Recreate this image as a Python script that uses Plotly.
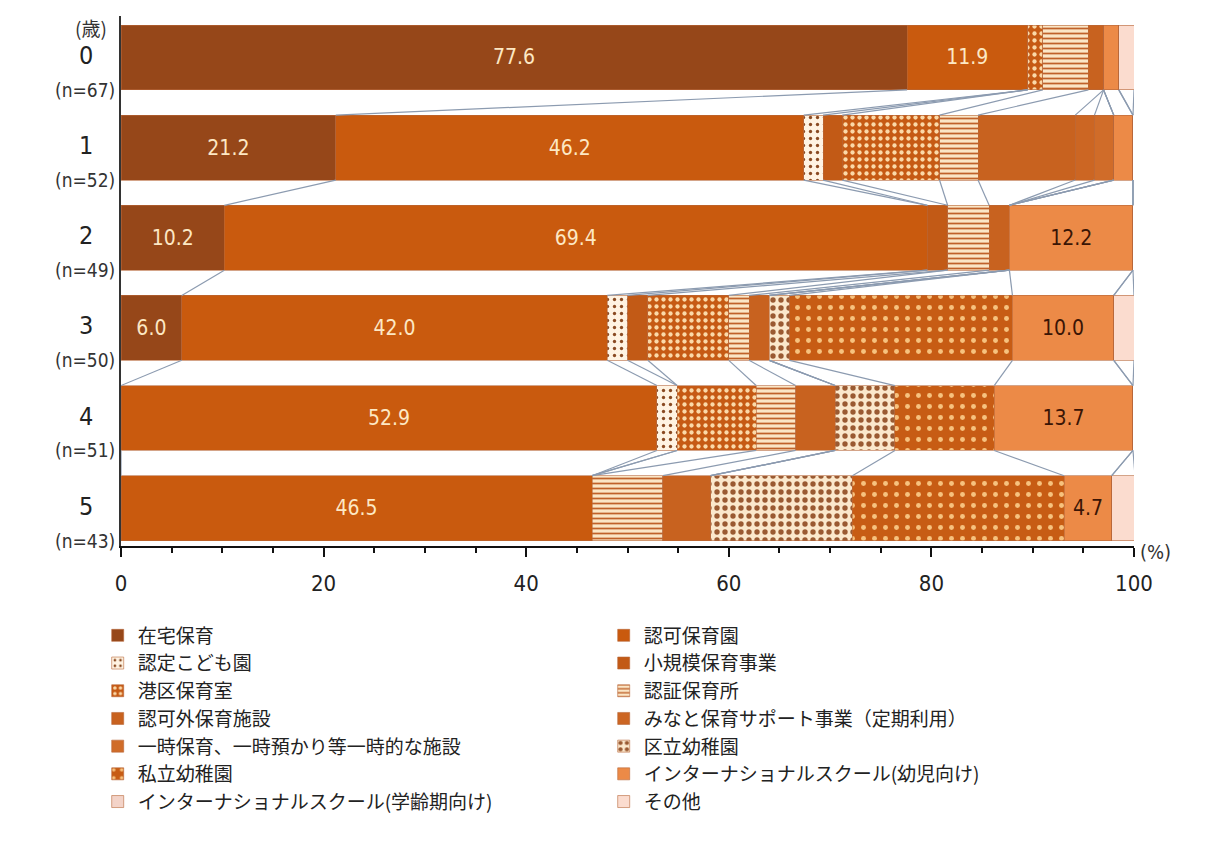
import plotly.graph_objects as go

ages = ["0", "1", "2", "3", "4", "5"]
n_labels = ["(n=67)", "(n=52)", "(n=49)", "(n=50)", "(n=51)", "(n=43)"]

series_names = [
    "在宅保育", "認可保育園",
    "認定こども園", "小規模保育事業",
    "港区保育室", "認証保育所",
    "認可外保育施設", "みなと保育サポート事業（定期利用）",
    "一時保育、一時預かり等一時的な施設", "区立幼稚園",
    "私立幼稚園", "インターナショナルスクール(幼児向け)",
    "インターナショナルスクール(学齢期向け)", "その他",
]

zaitaku = [77.6, 21.2, 10.2, 6.0, 0.0, 0.0]
ninka = [11.9, 46.2, 69.4, 42.0, 52.9, 46.5]
nintei = [0.0, 1.9, 0.0, 2.0, 2.0, 0.0]
shokibo = [0.0, 1.9, 2.0, 2.0, 0.0, 0.0]
minatoku = [1.5, 9.6, 0.0, 8.0, 7.8, 0.0]
ninsho = [4.5, 3.8, 4.1, 2.0, 3.9, 7.0]
ninkagai = [1.5, 9.6, 2.0, 2.0, 3.9, 4.7]
minato_support = [0.0, 1.9, 0.0, 0.0, 0.0, 0.0]
ichiji = [0.0, 1.9, 0.0, 0.0, 0.0, 0.0]
kuritsu = [0.0, 0.0, 0.0, 2.0, 5.9, 14.0]
shiritsu = [0.0, 0.0, 0.0, 22.0, 9.8, 20.9]
inter_yoji = [1.5, 1.9, 12.2, 10.0, 13.7, 4.7]
inter_gakurei = [0.0, 0.0, 0.0, 0.0, 0.0, 0.0]
sonota = [1.5, 0.0, 0.0, 2.0, 0.0, 2.3]

values = [zaitaku, ninka, nintei, shokibo, minatoku, ninsho, ninkagai,
          minato_support, ichiji, kuritsu, shiritsu, inter_yoji,
          inter_gakurei, sonota]

x_ticks = [0, 20, 40, 60, 80, 100]

# styles: (bg colour, pattern shape, pattern fg colour, solidity, size)
styles = [
    ("#964719", "", None, None, None),
    ("#c95a0e", "", None, None, None),
    ("#fff3e2", ".", "#8a4a22", 0.18, 7),
    ("#c25a16", "", None, None, None),
    ("#c65a14", ".", "#fbd9a8", 0.3, 7),
    ("#fbe6c6", "-", "#c0622a", 0.35, 5),
    ("#c8621f", "", None, None, None),
    ("#cc6623", "", None, None, None),
    ("#d06c29", "", None, None, None),
    ("#fbe8cc", ".", "#9a5a32", 0.35, 8),
    ("#c75c14", ".", "#f7c27e", 0.16, 11),
    ("#ec8a47", "", None, None, None),
    ("#f3d3c8", "", None, None, None),
    ("#fbdccf", "", None, None, None),
]

labelled = {0: "#fde8c4", 1: "#fde8c4", 11: "#3a1505"}

num_font = "Liberation Sans Narrow, DejaVu Sans Condensed, Noto Sans CJK JP"
jp_font = "Noto Sans CJK JP"

BW = 0.72
ypos = list(range(len(ages)))

fig = go.Figure()

for k, (name, vals) in enumerate(zip(series_names, values)):
    bg, shape, fg, sol, size = styles[k]
    marker = dict(color=bg, line=dict(color="#b8683a", width=0.6))
    if shape:
        marker["pattern"] = dict(shape=shape, fgcolor=fg, bgcolor=bg,
                                 solidity=sol, size=size, fillmode="replace")
    if k in labelled:
        text = [f"{v:.1f}" if v >= 4 else "" for v in vals]
        tcol = labelled[k]
    else:
        text = None
        tcol = "#000"
    fig.add_trace(go.Bar(
        name=name, x=vals, y=ypos, orientation="h", width=BW,
        marker=marker, text=text, textposition="inside",
        insidetextanchor="middle", textangle=0,
        textfont=dict(family=num_font, size=21, color=tcol),
        hoverinfo="skip",
    ))

# series lines connecting cumulative boundaries between consecutive bars
cums = []
run = [0.0] * len(ages)
for vals in values:
    run = [r + v for r, v in zip(run, vals)]
    cums.append(run[:])
lx, ly = [], []
for c in cums:
    for i in range(len(ages) - 1):
        lx += [c[i], c[i + 1], None]
        ly += [i + BW / 2, i + 1 - BW / 2, None]
fig.add_trace(go.Scatter(x=lx, y=ly, mode="lines", showlegend=False,
                         line=dict(color="#8c9bb0", width=1.2),
                         hoverinfo="skip"))

ann = []
for i, (a, nl) in enumerate(zip(ages, n_labels)):
    ann.append(dict(xref="paper", yref="y", x=0, y=i, text=a, showarrow=False,
                    xanchor="right", yanchor="middle", xshift=-26, yshift=2,
                    font=dict(family=num_font, size=25, color="#222")))
    ann.append(dict(xref="paper", yref="y", x=0, y=i + 0.36, text=nl,
                    showarrow=False, xanchor="right", yanchor="middle",
                    xshift=-4,
                    font=dict(family=num_font, size=19, color="#333")))
ann.append(dict(xref="paper", yref="y", x=0, y=-0.33, text="(歳)",
                showarrow=False, xanchor="right", yanchor="middle", xshift=-12,
                font=dict(family=jp_font, size=19, color="#333")))
ann.append(dict(xref="paper", yref="paper", x=1, y=0, text="(%)",
                showarrow=False, xanchor="left", yanchor="middle", xshift=4,
                yshift=-6, font=dict(family=num_font, size=20, color="#333")))

fig.update_layout(
    width=1222, height=842,
    margin=dict(l=113, r=96, t=8, b=304),
    barmode="stack", bargap=0.28,
    plot_bgcolor="white", paper_bgcolor="white",
    font=dict(family=jp_font, color="#222"),
    annotations=ann,
    showlegend=True,
    legend=dict(orientation="h", x=-0.023, y=-0.133, xanchor="left",
                yanchor="top", entrywidth=461, entrywidthmode="pixels",
                font=dict(family=jp_font, size=19, color="#222"),
                itemwidth=30, tracegroupgap=0, traceorder="normal",
                bgcolor="rgba(0,0,0,0)"),
)
fig.update_xaxes(range=[0, 100], tickvals=x_ticks,
                 ticktext=[str(t) for t in x_ticks],
                 showgrid=False, zeroline=False, showline=True,
                 linecolor="#111", linewidth=2, ticks="outside", ticklen=9,
                 tickwidth=2, tickcolor="#111", ticklabelstandoff=8,
                 minor=dict(dtick=5, ticks="outside", ticklen=5,
                            tickcolor="#111", tickwidth=1.5),
                 tickfont=dict(family=num_font, size=22, color="#222"))
fig.update_yaxes(range=[5.42, -0.46], showticklabels=False, showgrid=False,
                 zeroline=False, showline=True, linecolor="#333",
                 linewidth=2, ticks="")

fig.write_html("out.html")
